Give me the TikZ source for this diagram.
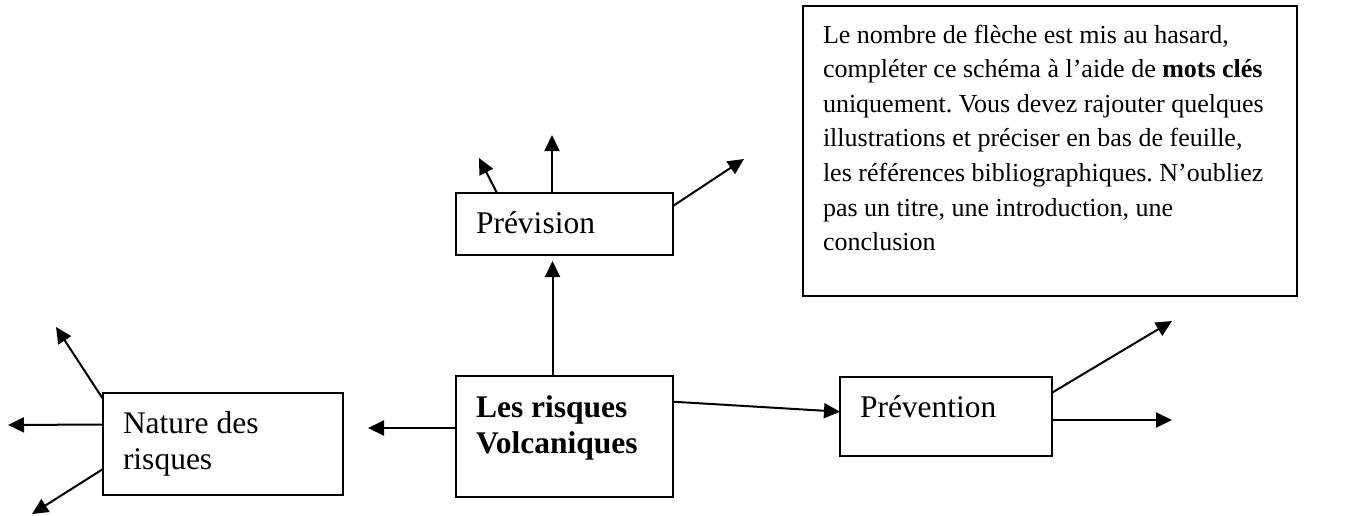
\documentclass[tikz,border=0pt]{standalone}
\usepackage{fontspec}
\setmainfont{Liberation Serif}
\usetikzlibrary{arrows.meta}
\frenchspacing

\begin{document}
\begin{tikzpicture}[x=0.5pt, y=-0.5pt,
  rbox/.style={draw, line width=1pt, anchor=north west, outer sep=0pt, inner xsep=10pt, inner ysep=0pt, font=\fontsize{15.75}{18.25}\selectfont},
  nbox/.style={draw, line width=1pt, anchor=north west, outer sep=0pt, inner xsep=10pt, inner ysep=0pt, font=\fontsize{13}{17.3}\selectfont},
  arr/.style={-{Triangle[length=8pt, width=7.5pt]}, line width=1pt}
]
  \useasboundingbox (0,0) rectangle (1366,515);

  % Boxes
  \node[rbox] (risk) at (456,376) {\parbox[t][60.5pt][t]{88.5pt}{\rule{0pt}{20.5pt}\textbf{Les risques}\\\textbf{Volcaniques}}};
  \node[rbox] (prev) at (456,193) {\parbox[t][31pt][t]{88.5pt}{\rule{0pt}{20pt}Prévision}};
  \node[rbox] (nat) at (103,393) {\parbox[t][51pt][t]{100pt}{\rule{0pt}{20pt}Nature des\\risques}};
  \node[rbox] (prevn) at (840,377) {\parbox[t][39.5pt][t]{86pt}{\rule{0pt}{20pt}Prévention}};
  \node[nbox] (note) at (803,6) {\parbox[t][145pt][t]{227pt}{\raggedright\rule{0pt}{18.5pt}Le nombre de flèche est mis au hasard,\\
    compléter ce schéma à l’aide de \textbf{mots clés}\\
    uniquement. Vous devez rajouter quelques\\
    illustrations et préciser en bas de feuille,\\
    les références bibliographiques. N’oubliez\\
    pas un titre, une introduction, une\\
    conclusion}};

  % Free arrow ends
  \coordinate (p1) at (479,158);
  \coordinate (p2) at (552,135);
  \coordinate (p3) at (744,159);
  \coordinate (r1) at (368,428);
  \coordinate (n1) at (56,327);
  \coordinate (n2) at (8,425);
  \coordinate (n3) at (32,514);
  \coordinate (v1) at (1172,321);
  \coordinate (v2) at (1172,420);

  % Prévision
  \draw[arr] ([xshift=20.5pt]prev.north west) -- (p1);
  \draw[arr] ([xshift=48pt]prev.north west) -- (p2);
  \draw[arr] ([yshift=-6.5pt]prev.north east) -- (p3);

  % Les risques Volcaniques
  \draw[arr, shorten >=3pt] ([xshift=48.25pt]risk.north west) -- ([xshift=48.25pt]prev.south west);
  \draw[arr] ([yshift=-26pt]risk.north west) -- (r1);
  \draw[arr] ([yshift=-12.85pt]risk.north east) -- ([yshift=-17.35pt]prevn.north west);

  % Nature des risques
  \draw[arr] ([yshift=-3pt]nat.north west) -- (n1);
  \draw[arr] ([yshift=-15.75pt]nat.north west) -- (n2);
  \draw[arr] ([yshift=-38pt]nat.north west) -- (n3);

  % Prévention
  \draw[arr] ([yshift=-7.85pt]prevn.north east) -- (v1);
  \draw[arr] ([yshift=-21.5pt]prevn.north east) -- (v2);
\end{tikzpicture}
\end{document}
